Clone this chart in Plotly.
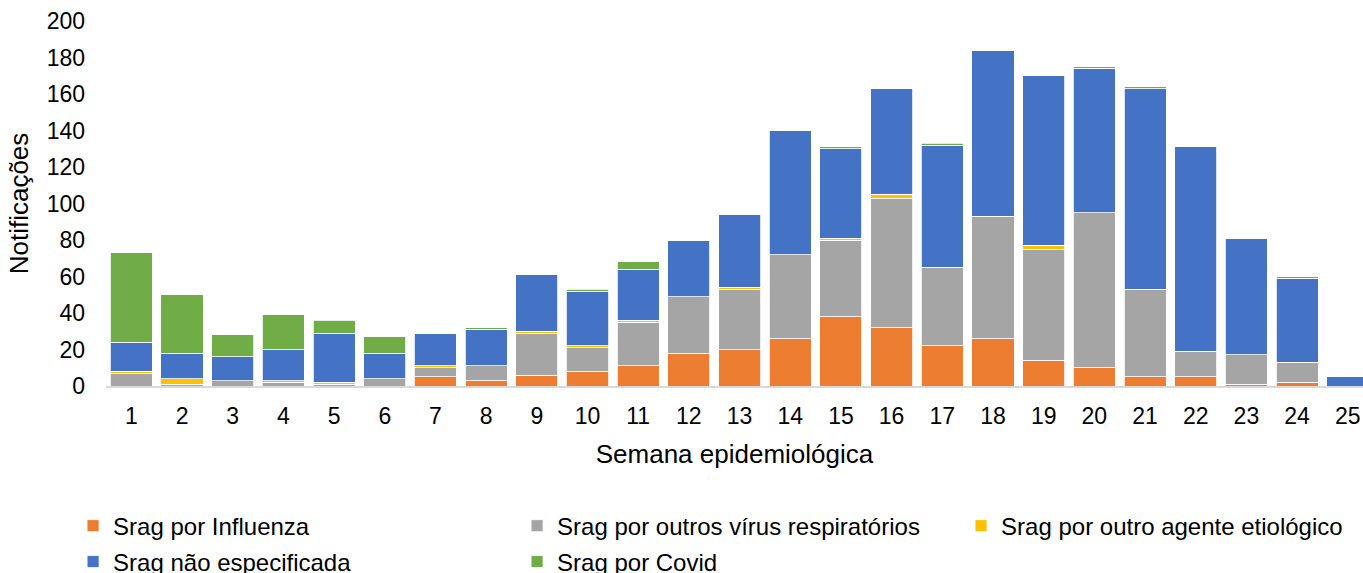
import plotly.graph_objects as go

# -------------------------
# DATA
# -------------------------
semanas = list(range(1, 26))

influenza = [0, 0, 0, 0, 0, 0, 5, 3, 6, 8, 11, 18, 20, 26, 38, 32, 22, 26, 14, 10, 5, 5, 1, 2, 0]
outros_virus = [7, 1, 3, 2, 1, 4, 5, 8, 23, 13, 24, 31, 33, 46, 42, 71, 43, 67, 61, 85, 48, 14, 16, 11, 0]
outro_agente = [1, 3, 0, 1, 1, 0, 1, 0, 1, 1, 1, 0, 1, 0, 1, 2, 0, 0, 2, 0, 0, 0, 0, 0, 0]
nao_especificada = [16, 14, 13, 17, 27, 14, 18, 20, 31, 30, 28, 31, 40, 68, 49, 58, 67, 91, 93, 79, 110, 112, 64, 46, 5]
covid = [49, 32, 12, 19, 7, 9, 0, 1, 0, 1, 4, 0, 0, 0, 1, 0, 1, 0, 0, 1, 1, 0, 0, 1, 0]

# (name, values, colour, legend row)
series = [
    ("Srag por Influenza", influenza, "#ED7D31", "legend"),
    ("Srag por outros vírus respiratórios", outros_virus, "#A5A5A5", "legend"),
    ("Srag por outro agente etiológico", outro_agente, "#FFC000", "legend"),
    ("Srag não especificada", nao_especificada, "#4472C4", "legend2"),
    ("Srag por Covid", covid, "#70AD47", "legend2"),
]

FONT = "Liberation Sans, Arial, sans-serif"

# -------------------------
# FIGURE
# -------------------------
fig = go.Figure()

for name, values, color, leg in series:
    fig.add_trace(
        go.Bar(
            x=semanas,
            y=values,
            name=name,
            legend=leg,
            marker=dict(color=color, line=dict(color="white", width=0.8)),
        )
    )

# -------------------------
# STYLE
# -------------------------
legend_common = dict(
    orientation="h",
    traceorder="normal",
    x=-0.0262,
    xanchor="left",
    yanchor="top",
    entrywidth=399,
    entrywidthmode="pixels",
    font=dict(size=24),
    bgcolor="rgba(0,0,0,0)",
)

fig.update_layout(
    barmode="stack",
    bargap=0.17,
    width=1363,
    height=573,
    plot_bgcolor="white",
    paper_bgcolor="white",
    font=dict(family=FONT, size=23, color="black"),
    margin=dict(l=105.6, r=0, t=21, b=187, autoexpand=False),
    legend=dict(legend_common, y=-0.322),
    legend2=dict(legend_common, y=-0.4205),
)

fig.update_xaxes(
    tickmode="array",
    tickvals=semanas,
    range=[0.5, 25.3],
    showgrid=False,
    showline=True,
    linecolor="#D9D9D9",
    linewidth=1.5,
    ticks="",
    ticklabelstandoff=9,
    automargin=False,
    title=dict(text="Semana epidemiológica", font=dict(size=26), standoff=16),
)

fig.update_yaxes(
    range=[0, 200],
    dtick=20,
    showgrid=False,
    showline=False,
    zeroline=False,
    ticks="",
    ticklabelstandoff=20,
    automargin=False,
    title=dict(text="Notificações", font=dict(size=26), standoff=10),
)

# drop the default page margin so the figure fills the window exactly
fig.write_html(
    "out.html",
    config={"displayModeBar": False},
    post_script="document.body.style.margin='0';document.body.style.overflow='hidden';",
)
